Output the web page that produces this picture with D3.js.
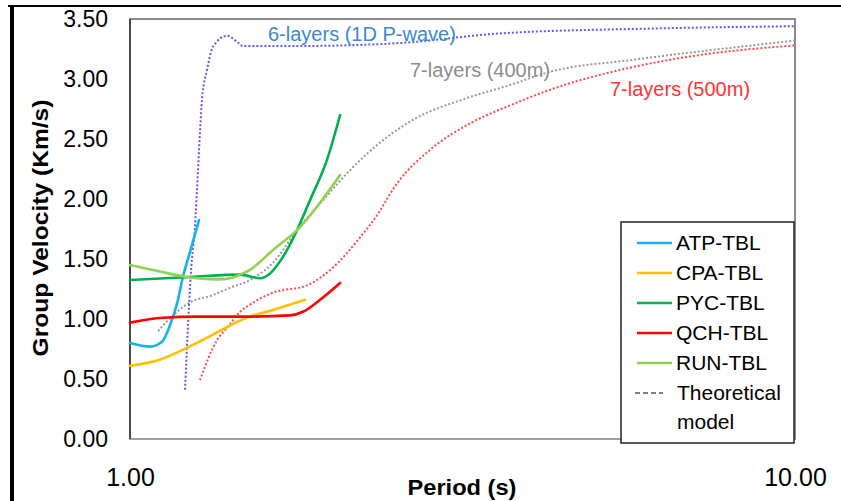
<!DOCTYPE html>
<html lang="en">
<head>
  <meta charset="UTF-8">
  <title>Group velocity</title>
  <script src="https://d3js.org/d3.v7.min.js"></script>
  <style>
    body { margin: 0; background: #fff; }
    text { font-family: Arial, "Liberation Sans", sans-serif; }
  </style>
</head>
<body>
  <script>
    const width = 841, height = 501;
    const margin = { left: 130, right: 46, top: 19, bottom: 62 };

    // observed curves: [period (s), group velocity (km/s)]
    const atp = [[1.0, 0.80], [1.072, 0.77], [1.117, 0.81], [1.149, 0.95], [1.177, 1.13], [1.201, 1.35], [1.231, 1.56], [1.270, 1.825]];
    const cpa = [[1.0, 0.61], [1.109, 0.66], [1.218, 0.76], [1.333, 0.87], [1.449, 0.975], [1.515, 1.02], [1.641, 1.075], [1.833, 1.16]];
    const pyc = [[1.0, 1.325], [1.231, 1.35], [1.464, 1.37], [1.569, 1.34], [1.624, 1.38], [1.699, 1.52], [1.783, 1.74], [1.865, 1.99], [1.979, 2.33], [2.070, 2.70]];
    const qch = [[1.0, 0.97], [1.121, 1.01], [1.261, 1.02], [1.515, 1.02], [1.740, 1.03], [1.820, 1.06], [1.931, 1.16], [2.070, 1.30]];
    const run = [[1.0, 1.45], [1.121, 1.39], [1.218, 1.35], [1.352, 1.33], [1.414, 1.34], [1.464, 1.37], [1.515, 1.41], [1.641, 1.575], [1.783, 1.74], [2.070, 2.20]];

    // theoretical models
    const model6 = [[1.210, 0.41], [1.223, 0.97], [1.240, 1.52], [1.248, 1.66], [1.261, 2.07], [1.274, 2.55], [1.283, 2.83], [1.306, 3.08], [1.333, 3.27], [1.399, 3.36], [1.449, 3.31], [1.479, 3.275], [1.80, 3.275], [2.55, 3.30], [3.60, 3.38], [6.05, 3.42], [10.0, 3.44]];
    const model400 = [[1.102, 0.90], [1.161, 1.03], [1.223, 1.13], [1.333, 1.20], [1.414, 1.26], [1.515, 1.325], [1.641, 1.47], [1.783, 1.74], [1.951, 1.99], [2.142, 2.24], [2.377, 2.47], [2.664, 2.66], [3.168, 2.83], [3.728, 2.95], [4.281, 3.06], [5.706, 3.16], [7.197, 3.23], [10.0, 3.32]];
    const model500 = [[1.274, 0.49], [1.352, 0.825], [1.399, 0.925], [1.464, 1.06], [1.515, 1.12], [1.641, 1.22], [1.846, 1.28], [2.020, 1.43], [2.218, 1.68], [2.336, 1.84], [2.521, 2.13], [2.826, 2.41], [3.247, 2.63], [3.728, 2.78], [4.281, 2.91], [5.706, 3.10], [7.197, 3.20], [10.0, 3.28]];

    const yTicks = [0, 0.5, 1, 1.5, 2, 2.5, 3, 3.5];
    const xTicks = [1, 10];

    const stations = [
      { name: 'ATP-TBL', data: atp, color: '#1ab0ef' },
      { name: 'CPA-TBL', data: cpa, color: '#ffc000' },
      { name: 'PYC-TBL', data: pyc, color: '#00b050' },
      { name: 'QCH-TBL', data: qch, color: '#ff0000' },
      { name: 'RUN-TBL', data: run, color: '#92d050' }
    ];
    const models = [
      { name: '6-layers (1D P-wave)', data: model6, color: '#5a5af5', textColor: '#3b8ad2', lx: 268, ly: 41 },
      { name: '7-layers (400m)', data: model400, color: '#999999', textColor: '#8c8c8c', lx: 410, ly: 77 },
      { name: '7-layers (500m)', data: model500, color: '#ff4a4a', textColor: '#ff3333', lx: 610, ly: 96 }
    ];

    const svg = d3.select('body').append('svg')
      .attr('width', width)
      .attr('height', height);

    // outer frame
    svg.append('line').attr('x1', 8).attr('x2', width).attr('y1', 6).attr('y2', 6)
      .attr('stroke', '#000').attr('stroke-width', 2);
    svg.append('line').attr('x1', 12).attr('x2', 12).attr('y1', 5).attr('y2', height)
      .attr('stroke', '#000').attr('stroke-width', 4);

    const x = d3.scaleLog().domain([1, 10]).range([margin.left, width - margin.right]);
    const y = d3.scaleLinear().domain([0, 3.5]).range([height - margin.bottom, margin.top]);

    // plot border
    svg.append('rect')
      .attr('x', x(1)).attr('y', y(3.5))
      .attr('width', x(10) - x(1)).attr('height', y(0) - y(3.5))
      .attr('fill', 'none').attr('stroke', '#666').attr('stroke-width', 1.5);
    svg.append('line').attr('x1', x(1)).attr('x2', x(10)).attr('y1', y(0)).attr('y2', y(0))
      .attr('stroke', '#a6a6a6').attr('stroke-width', 1.5);
    svg.append('line').attr('x1', x(1)).attr('x2', x(1)).attr('y1', y(3.5)).attr('y2', y(0))
      .attr('stroke', '#333').attr('stroke-width', 1.5);

    const yAxis = d3.axisLeft(y).tickValues(yTicks).tickFormat(d3.format('.2f'))
      .tickSize(0).tickPadding(22);
    const xAxis = d3.axisBottom(x).tickValues(xTicks).tickFormat(d3.format('.2f'))
      .tickSize(0).tickPadding(29);

    const gy = svg.append('g').attr('transform', `translate(${x(1)},0)`).call(yAxis);
    gy.select('.domain').remove();
    gy.selectAll('text').attr('font-size', 23).attr('font-family', 'Arial, "Liberation Sans", sans-serif').attr('fill', '#000');

    const gx = svg.append('g').attr('transform', `translate(0,${y(0)})`).call(xAxis);
    gx.select('.domain').remove();
    gx.selectAll('text').attr('font-size', 25).attr('font-family', '"Times New Roman", "Liberation Serif", serif').attr('fill', '#000');

    // axis titles
    svg.append('text')
      .attr('transform', 'translate(48,228) rotate(-90)')
      .attr('text-anchor', 'middle')
      .attr('font-size', 22).attr('font-weight', 'bold')
      .attr('textLength', 257).attr('lengthAdjust', 'spacingAndGlyphs')
      .text('Group Velocity (Km/s)');
    svg.append('text')
      .attr('x', 462).attr('y', 495)
      .attr('text-anchor', 'middle')
      .attr('font-size', 22).attr('font-weight', 'bold')
      .attr('textLength', 109).attr('lengthAdjust', 'spacingAndGlyphs')
      .text('Period (s)');

    const line = d3.line()
      .x(d => x(d[0]))
      .y(d => y(d[1]))
      .curve(d3.curveMonotoneX);

    // theoretical models (dotted)
    svg.append('g').selectAll('path')
      .data(models)
      .join('path')
      .attr('d', d => line(d.data))
      .attr('fill', 'none')
      .attr('stroke', d => d.color)
      .attr('stroke-width', 2)
      .attr('stroke-dasharray', '2,2');

    svg.append('g').selectAll('text')
      .data(models)
      .join('text')
      .attr('x', d => d.lx).attr('y', d => d.ly)
      .attr('font-size', 20)
      .attr('fill', d => d.textColor)
      .text(d => d.name);

    // observed curves
    svg.append('g').selectAll('path')
      .data(stations)
      .join('path')
      .attr('d', d => line(d.data))
      .attr('fill', 'none')
      .attr('stroke', d => d.color)
      .attr('stroke-width', 2.6)
      .attr('stroke-linecap', 'round');

    // legend
    const legend = svg.append('g').attr('transform', 'translate(621,222)');
    legend.append('rect')
      .attr('width', 173).attr('height', 221)
      .attr('fill', '#fff').attr('stroke', '#222').attr('stroke-width', 1.5);

    const items = legend.selectAll('g.item')
      .data(stations)
      .join('g')
      .attr('class', 'item')
      .attr('transform', (d, i) => `translate(0,${21 + i * 30})`);
    items.append('line')
      .attr('x1', 16).attr('x2', 51)
      .attr('stroke', d => d.color).attr('stroke-width', 2.6);
    items.append('text')
      .attr('x', 55).attr('dy', '0.35em')
      .attr('font-size', 21)
      .text(d => d.name);

    const th = legend.append('g').attr('transform', `translate(0,${21 + 5 * 30})`);
    th.append('line')
      .attr('x1', 14).attr('x2', 42)
      .attr('stroke', '#808080').attr('stroke-width', 2)
      .attr('stroke-dasharray', '5,3');
    th.append('text')
      .attr('x', 56).attr('dy', '0.35em')
      .attr('font-size', 21)
      .text('Theoretical');
    th.append('text')
      .attr('x', 56).attr('y', 29).attr('dy', '0.35em')
      .attr('font-size', 21)
      .text('model');
  </script>
</body>
</html>
